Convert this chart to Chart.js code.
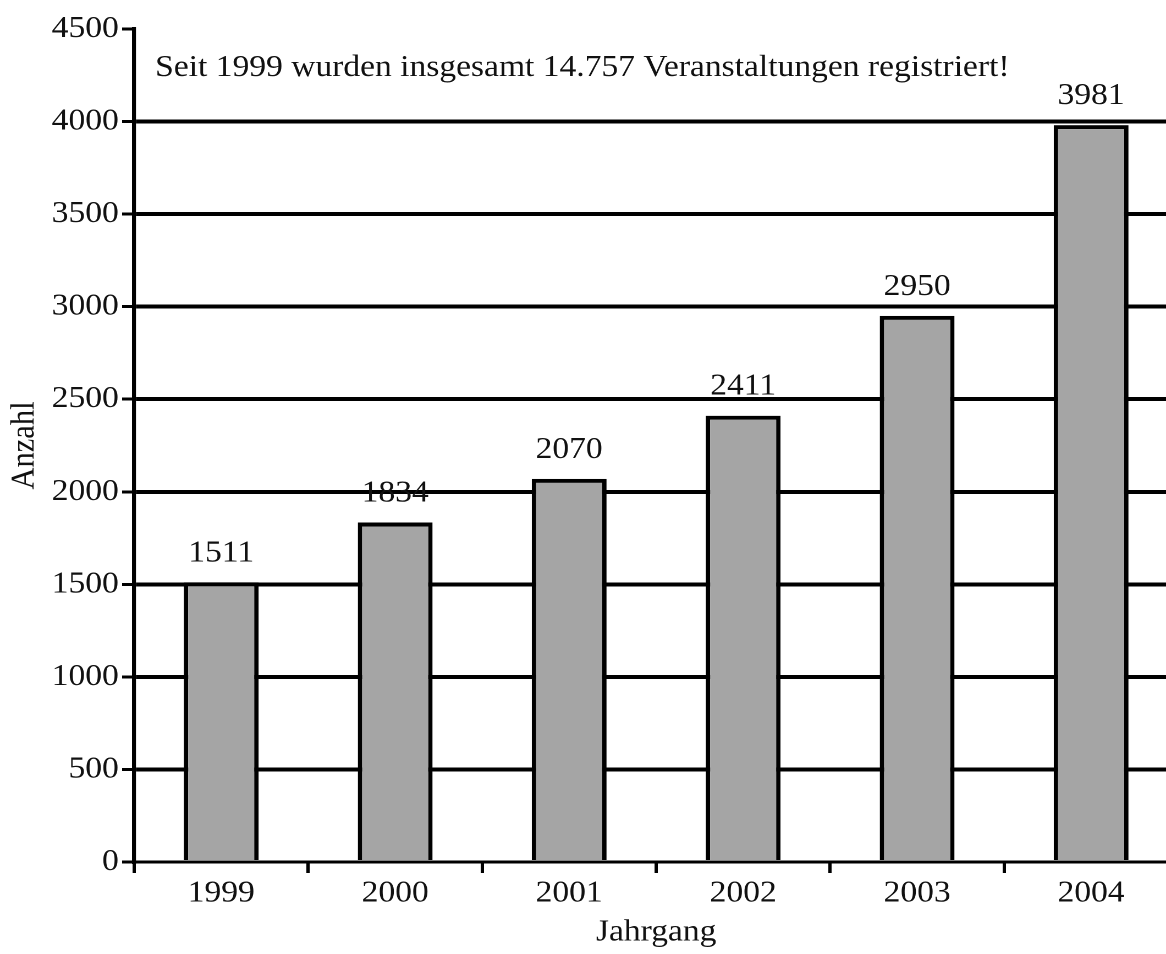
<!DOCTYPE html>
<html>
<head>
<meta charset="utf-8">
<title>Veranstaltungen pro Jahrgang</title>
<script src="https://cdn.jsdelivr.net/npm/chart.js@4"></script>
<style>
  html, body { margin: 0; padding: 0; background: #fff; overflow: hidden; width: 1166px; height: 954px; }
  /* the original picture is slightly stretched horizontally */
  #wrap { transform: scaleX(1.1); transform-origin: 0 0; width: 1071px; height: 954px; }
</style>
</head>
<body>
<div id="wrap"><canvas id="chart" width="1071" height="954"></canvas></div>
<script>
// Data
const years = ['1999', '2000', '2001', '2002', '2003', '2004'];
const counts = [1511, 1834, 2070, 2411, 2950, 3981];
const yMin = 0;
const yMax = 4500;
const yStep = 500;
const noteText = 'Seit 1999 wurden insgesamt 14.757 Veranstaltungen registriert!';
const xTitle = 'Jahrgang';
const yTitle = 'Anzahl';

const FONT = { family: "'Liberation Serif', 'Times New Roman', Times, serif", size: 30.5 };
const TEXT = '#111';

// Value labels above bars + the note at the top
const barLabels = {
    id: 'barLabels',
    afterDatasetsDraw(chart) {
        const ctx = chart.ctx;
        const meta = chart.getDatasetMeta(0);
        ctx.save();
        ctx.font = FONT.size + 'px ' + FONT.family;
        ctx.fillStyle = TEXT;
        ctx.textAlign = 'center';
        ctx.textBaseline = 'alphabetic';
        meta.data.forEach((bar, i) => {
            ctx.fillText(String(counts[i]), bar.x, bar.y - 21);
        });
        ctx.textAlign = 'left';
        ctx.fillText(noteText, chart.chartArea.left + 19, chart.chartArea.top + 47);
        ctx.restore();
    }
};

new Chart(document.getElementById('chart'), {
    type: 'bar',
    data: {
        labels: years,
        datasets: [{
            data: counts,
            backgroundColor: '#a5a5a5',
            borderColor: '#000',
            borderWidth: 4,
            barPercentage: 0.43,
            categoryPercentage: 1
        }]
    },
    options: {
        responsive: false,
        animation: false,
        devicePixelRatio: 2,
        layout: { padding: { top: 29, left: 0, right: 0, bottom: 0 } },
        plugins: {
            legend: { display: false },
            tooltip: { enabled: false }
        },
        scales: {
            x: {
                grid: {
                    offset: true,
                    drawOnChartArea: false,
                    drawTicks: true,
                    tickLength: 11,
                    tickWidth: 3,
                    tickColor: '#000',
                    color: '#000'
                },
                border: { color: '#000', width: 3 },
                ticks: { font: FONT, color: TEXT, padding: 2 },
                title: { display: true, text: xTitle, font: FONT, color: TEXT, padding: { top: 0, bottom: 3 } },
                afterFit(scale) { scale.height = 92; }
            },
            y: {
                min: yMin,
                max: yMax,
                ticks: { stepSize: yStep, font: FONT, color: TEXT, padding: 3, callback: v => String(v) },
                grid: {
                    color: c => (c.tick && (c.tick.value === yMin || c.tick.value === yMax)) ? 'rgba(0,0,0,0)' : '#000',
                    lineWidth: 4,
                    tickColor: '#000',
                    tickWidth: 3,
                    tickLength: 11
                },
                border: { color: '#000', width: 3.6 },
                title: { display: true, text: yTitle, font: FONT, color: TEXT, padding: { top: 4, bottom: 0 } },
                afterFit(scale) { scale.width = 122; }
            }
        }
    },
    plugins: [barLabels]
});
</script>
</body>
</html>
